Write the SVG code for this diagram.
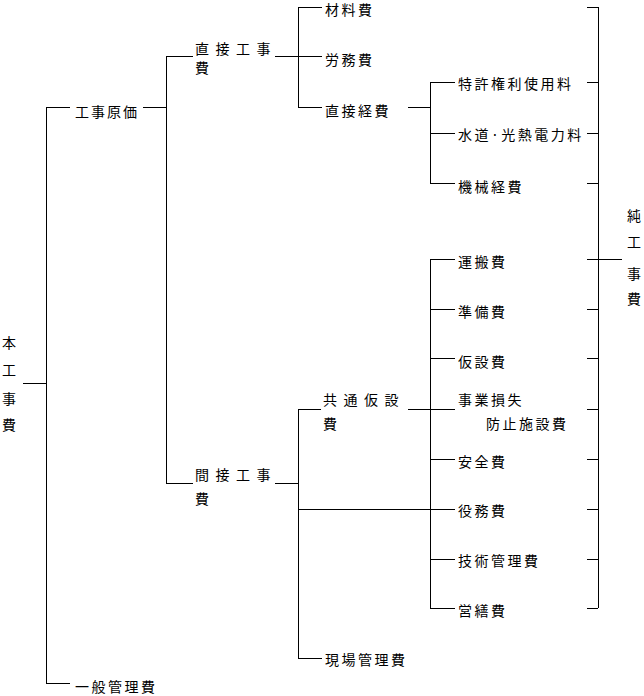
<svg xmlns="http://www.w3.org/2000/svg" width="644" height="696" viewBox="0 0 644 696">
<style>
text{font-family:"Noto Sans CJK JP","Noto Sans CJK SC",sans-serif;font-size:14px;fill:#000;letter-spacing:2.5px}
.w{letter-spacing:6.5px}
.n{letter-spacing:2px}
.c path{stroke:#000;stroke-width:1;fill:none;shape-rendering:crispEdges}
</style>
<rect width="644" height="696" fill="#fff"/>
<g class="c" id="connectors">
<path d="M46.5 107V683M23 383.5H46.5M46 107.5H70M143 107.5H166M166.5 56V483M166 56.5H193M275 56.5H298M298.5 7V107M298 7.5H322M298 56.5H322M298 107.5H322"/>
<path d="M408 107.5H430M430.5 82V183M430 82.5H455M430 133.5H455M430 183.5H455"/>
<path d="M598.5 7V608M587 7.5H598M587 82.5H598M587 133.5H598M587 183.5H598M587 259.5H622M587 309.5H598M587 358.5H598M587 409.5H598M587 459.5H598M587 509.5H598M587 559.5H598M587 608.5H598"/>
<path d="M430.5 259V608M430 259.5H455M430 309.5H455M430 358.5H455M408 409.5H455M430 459.5H455M430 559.5H455M430 608.5H455"/>
<path d="M166 483.5H193M275 483.5H298M298.5 409V658M298 409.5H321M298 509.5H455M298 658.5H322M46 683.5H70"/>
</g>
<g id="n-honkoujihi"><text x="2" y="348">本</text><text x="2" y="375">工</text><text x="2" y="404">事</text><text x="2" y="430">費</text></g>
<g id="n-koujigenka"><text class="n" x="75" y="117">工事原価</text></g>
<g id="n-chokusetsu"><text class="w" x="195" y="54">直接工事</text><text x="195" y="73">費</text></g>
<g id="n-kansetsu"><text class="w" x="195" y="480">間接工事</text><text x="195" y="504">費</text></g>
<g id="n-ippan"><text x="75" y="692">一般管理費</text></g>
<g id="n-zairyo"><text x="325" y="15">材料費</text></g>
<g id="n-roumu"><text x="325" y="65">労務費</text></g>
<g id="n-chokusetsukeihi"><text x="325" y="116">直接経費</text></g>
<g id="n-tokkyo"><text x="458" y="89">特許権利使用料</text></g>
<g id="n-suidou"><text x="458" y="140">水道·光熱電力料</text></g>
<g id="n-kikai"><text x="458" y="192">機械経費</text></g>
<g id="n-kyoutsuu"><text class="w" x="323" y="405">共通仮設</text><text x="323" y="429">費</text></g>
<g id="n-genba"><text x="325" y="665">現場管理費</text></g>
<g id="n-unpan"><text x="458" y="267">運搬費</text></g>
<g id="n-junbi"><text x="458" y="317">準備費</text></g>
<g id="n-kasetsu"><text x="458" y="367">仮設費</text></g>
<g id="n-jigyou"><text x="458" y="405">事業損失</text><text x="486" y="429">防止施設費</text></g>
<g id="n-anzen"><text x="458" y="467">安全費</text></g>
<g id="n-ekimu"><text x="458" y="516">役務費</text></g>
<g id="n-gijutsu"><text x="458" y="566">技術管理費</text></g>
<g id="n-eizen"><text x="458" y="616">営繕費</text></g>
<g id="n-junkoujihi"><text x="627" y="221">純</text><text x="627" y="247">工</text><text x="627" y="279">事</text><text x="627" y="304">費</text></g>
</svg>
